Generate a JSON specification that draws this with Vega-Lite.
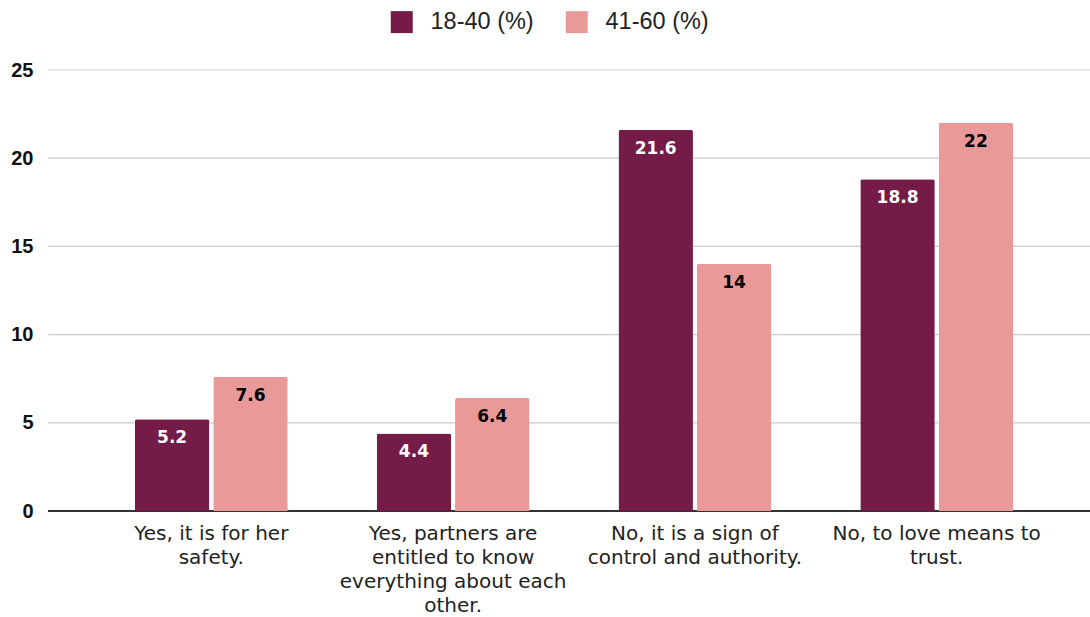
{
  "$schema": "https://vega.github.io/schema/vega-lite/v6.json",
  "width": 1042,
  "height": 441,
  "autosize": {"type": "none"},
  "padding": {"left": 48, "top": 70, "right": 0, "bottom": 106},
  "background": "white",
  "config": {"view": {"stroke": null}},
  "data": {
    "values": [
      {"answer": "Yes, it is for her safety.", "group": "18-40 (%)", "value": 5.2},
      {"answer": "Yes, it is for her safety.", "group": "41-60 (%)", "value": 7.6},
      {"answer": "Yes, partners are entitled to know everything about each other.", "group": "18-40 (%)", "value": 4.4},
      {"answer": "Yes, partners are entitled to know everything about each other.", "group": "41-60 (%)", "value": 6.4},
      {"answer": "No, it is a sign of control and authority.", "group": "18-40 (%)", "value": 21.6},
      {"answer": "No, it is a sign of control and authority.", "group": "41-60 (%)", "value": 14},
      {"answer": "No, to love means to trust.", "group": "18-40 (%)", "value": 18.8},
      {"answer": "No, to love means to trust.", "group": "41-60 (%)", "value": 22}
    ]
  },
  "layer": [
    {
      "data": {"values": [{"tick": 5}, {"tick": 10}, {"tick": 15}, {"tick": 20}, {"tick": 25}, {"tick": 0}]},
      "mark": {"type": "rule"},
      "encoding": {
        "y": {
          "field": "tick",
          "type": "quantitative",
          "scale": {"domain": [0, 25], "nice": false},
          "axis": {
            "title": null,
            "values": [0, 5, 10, 15, 20, 25],
            "domain": false,
            "ticks": false,
            "grid": false,
            "labelFont": "Liberation Sans",
            "labelFontWeight": "bold",
            "labelFontSize": 20,
            "labelColor": "#111111",
            "labelPadding": 15
          }
        },
        "color": {"condition": {"test": "datum.tick == 0", "value": "#333333"}, "value": "#cccccc"},
        "strokeWidth": {"condition": {"test": "datum.tick == 0", "value": 2}, "value": 1.2}
      }
    },
    {
      "mark": {"type": "bar", "cornerRadiusTopLeft": 2, "cornerRadiusTopRight": 2},
      "encoding": {
        "x": {
          "field": "answer",
          "type": "nominal",
          "sort": null,
          "scale": {"range": [10, 1042], "paddingInner": 0.368, "paddingOuter": 0.318},
          "axis": {
            "title": null,
            "labelAngle": 0,
            "ticks": false,
            "domain": false,
            "labelFont": "DejaVu Sans",
            "labelFontSize": 20,
            "labelColor": "#222222",
            "labelLineHeight": 24,
            "labelPadding": 12,
            "labelLimit": 0,
            "labelBaseline": "top",
            "labelExpr": "datum.value == 'Yes, it is for her safety.' ? ['Yes, it is for her', 'safety.'] : datum.value == 'Yes, partners are entitled to know everything about each other.' ? ['Yes, partners are', 'entitled to know', 'everything about each', 'other.'] : datum.value == 'No, it is a sign of control and authority.' ? ['No, it is a sign of', 'control and authority.'] : ['No, to love means to', 'trust.']"
          }
        },
        "xOffset": {
          "field": "group",
          "type": "nominal",
          "scale": {"paddingInner": 0.05, "paddingOuter": 0}
        },
        "y": {"field": "value", "type": "quantitative"},
        "color": {
          "field": "group",
          "type": "nominal",
          "scale": {"domain": ["18-40 (%)", "41-60 (%)"], "range": ["#741b47", "#ea9999"]},
          "legend": {
            "title": null,
            "orient": "none",
            "direction": "horizontal",
            "legendX": 342,
            "legendY": -60,
            "symbolType": "square",
            "symbolSize": 484,
            "symbolStrokeWidth": 0,
            "labelFont": "Liberation Sans",
            "labelFontSize": 23.5,
            "labelColor": "#222222",
            "labelOffset": 17,
            "columnPadding": 31
          }
        }
      }
    },
    {
      "mark": {"type": "text", "baseline": "alphabetic", "dy": 24, "font": "DejaVu Sans", "fontWeight": "bold", "fontSize": 17},
      "encoding": {
        "x": {"field": "answer", "type": "nominal", "sort": null},
        "xOffset": {"field": "group", "type": "nominal"},
        "y": {"field": "value", "type": "quantitative"},
        "text": {"field": "value", "type": "quantitative"},
        "color": {
          "field": "group",
          "type": "nominal",
          "scale": {"domain": ["18-40 (%)", "41-60 (%)"], "range": ["#ffffff", "#000000"]},
          "legend": null
        }
      }
    }
  ],
  "resolve": {"scale": {"color": "independent"}}
}
